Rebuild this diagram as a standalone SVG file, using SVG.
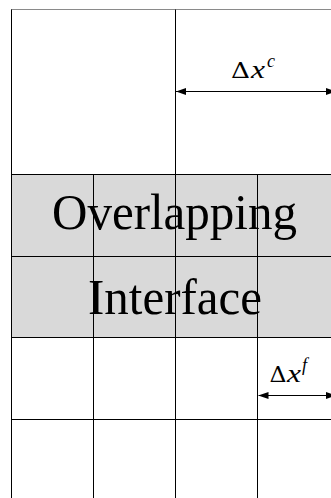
<svg xmlns="http://www.w3.org/2000/svg" width="331" height="498" viewBox="0 0 331 498">
  <style>
    .grid { stroke: #000; stroke-width: 1; fill: none; }
    .big { font-family: "Liberation Serif", "DejaVu Serif", serif; font-size: 50px; fill: #000; text-anchor: middle; }
    .delta { font-family: "DejaVu Serif", "Liberation Serif", serif; font-size: 23px; fill: #000; }
    .var { font-family: "Liberation Serif", serif; font-style: italic; font-size: 26px; fill: #000; }
    .sup { font-family: "Liberation Serif", serif; font-style: italic; font-size: 18px; fill: #000; }
    .dim { stroke: #000; stroke-width: 1.2; fill: none; marker-start: url(#ah); marker-end: url(#ah); }
  </style>
  <defs>
    <marker id="ah" viewBox="0 0 10 7" refX="10" refY="3.5" markerWidth="10" markerHeight="7" markerUnits="userSpaceOnUse" orient="auto-start-reverse">
      <path d="M0,0 L10,3.5 L0,7 z" fill="#000"/>
    </marker>
  </defs>
  <rect width="331" height="498" fill="#fff"/>
  <g id="interface-region">
    <rect x="11.5" y="174.5" width="320" height="163" fill="#d9d9d9"/>
  </g>
  <g id="grid">
    <line class="grid" x1="11" y1="9.5" x2="331" y2="9.5" style="stroke:#8a8a8a"/>
    <line class="grid" x1="11.5" y1="9.5" x2="11.5" y2="498"/>
    <line class="grid" x1="175.5" y1="9.5" x2="175.5" y2="498"/>
    <line class="grid" x1="93.5" y1="174.5" x2="93.5" y2="498"/>
    <line class="grid" x1="257.5" y1="174.5" x2="257.5" y2="498"/>
    <line class="grid" x1="11.5" y1="174.5" x2="331" y2="174.5"/>
    <line class="grid" x1="11.5" y1="256.5" x2="331" y2="256.5"/>
    <line class="grid" x1="11.5" y1="337.5" x2="331" y2="337.5"/>
    <line class="grid" x1="11.5" y1="419.5" x2="331" y2="419.5"/>
  </g>
  <g id="label-interface">
    <text class="big" x="174.5" y="229" textLength="245" lengthAdjust="spacingAndGlyphs">Overlapping</text>
    <text class="big" x="175" y="314" textLength="174" lengthAdjust="spacingAndGlyphs">Interface</text>
  </g>
  <g id="connectors">
    <line class="dim" x1="176" y1="91.5" x2="336" y2="91.5"/>
    <line class="dim" x1="258.5" y1="395.5" x2="336" y2="395.5"/>
  </g>
  <g id="label-dxc">
    <text class="delta" x="231" y="78" textLength="19" lengthAdjust="spacingAndGlyphs">Δ</text>
    <text class="var" x="251" y="78" textLength="14" lengthAdjust="spacingAndGlyphs">x</text>
    <text class="sup" x="267" y="67">c</text>
  </g>
  <g id="label-dxf">
    <text class="delta" x="269.5" y="382" textLength="17" lengthAdjust="spacingAndGlyphs">Δ</text>
    <text class="var" x="287" y="382" textLength="14" lengthAdjust="spacingAndGlyphs">x</text>
    <text class="sup" x="302" y="371">f</text>
  </g>
</svg>
